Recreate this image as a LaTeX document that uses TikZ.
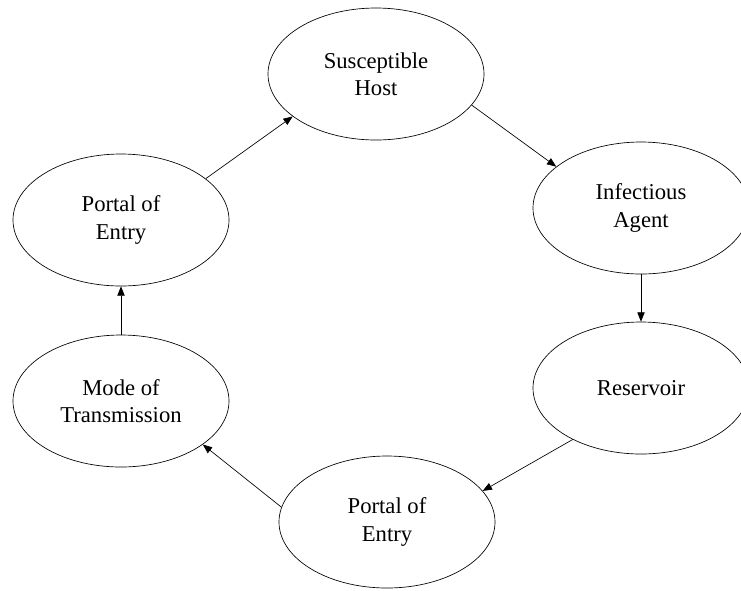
\documentclass[tikz,border=0pt]{standalone}
\usepackage{fontspec}
\setmainfont{Liberation Serif}
\usetikzlibrary{arrows.meta,shapes.geometric}

\begin{document}
\begin{tikzpicture}[
    x=0.75pt, y=-0.75pt,
    >={Triangle[length=7pt,width=5.5pt]},
    chain_node/.style={draw, ellipse, line width=0.5pt, minimum width=162pt, minimum height=99pt, inner sep=0pt, align=center, font=\fontsize{17}{20.5}\selectfont},
    link_edge/.style={->, line width=0.5pt}
]
\useasboundingbox (0,0) rectangle (741,590);

% --- NODES ---
\node[chain_node] (host) at (376,74) {Susceptible\\Host};
\node[chain_node] (agent) at (641,208) {Infectious\\Agent};
\node[chain_node] (reservoir) at (641,388) {Reservoir};
\node[chain_node] (portal_out) at (387,522) {Portal of\\Entry};
\node[chain_node] (mode) at (121,401) {Mode of\\Transmission};
\node[chain_node] (portal_in) at (121,220) {Portal of\\Entry};

% --- EDGES ---
\draw[link_edge] (portal_in.26) -- (host.-153);
\draw[link_edge] (host.-18) -- (agent.154);
\draw[link_edge] (agent.south) -- (reservoir.north);
\draw[link_edge] (reservoir.217) -- (portal_out.18);
\draw[link_edge] (portal_out.172) -- (mode.-28);
\draw[link_edge] (mode.north) -- (portal_in.south);

\end{tikzpicture}
\end{document}
